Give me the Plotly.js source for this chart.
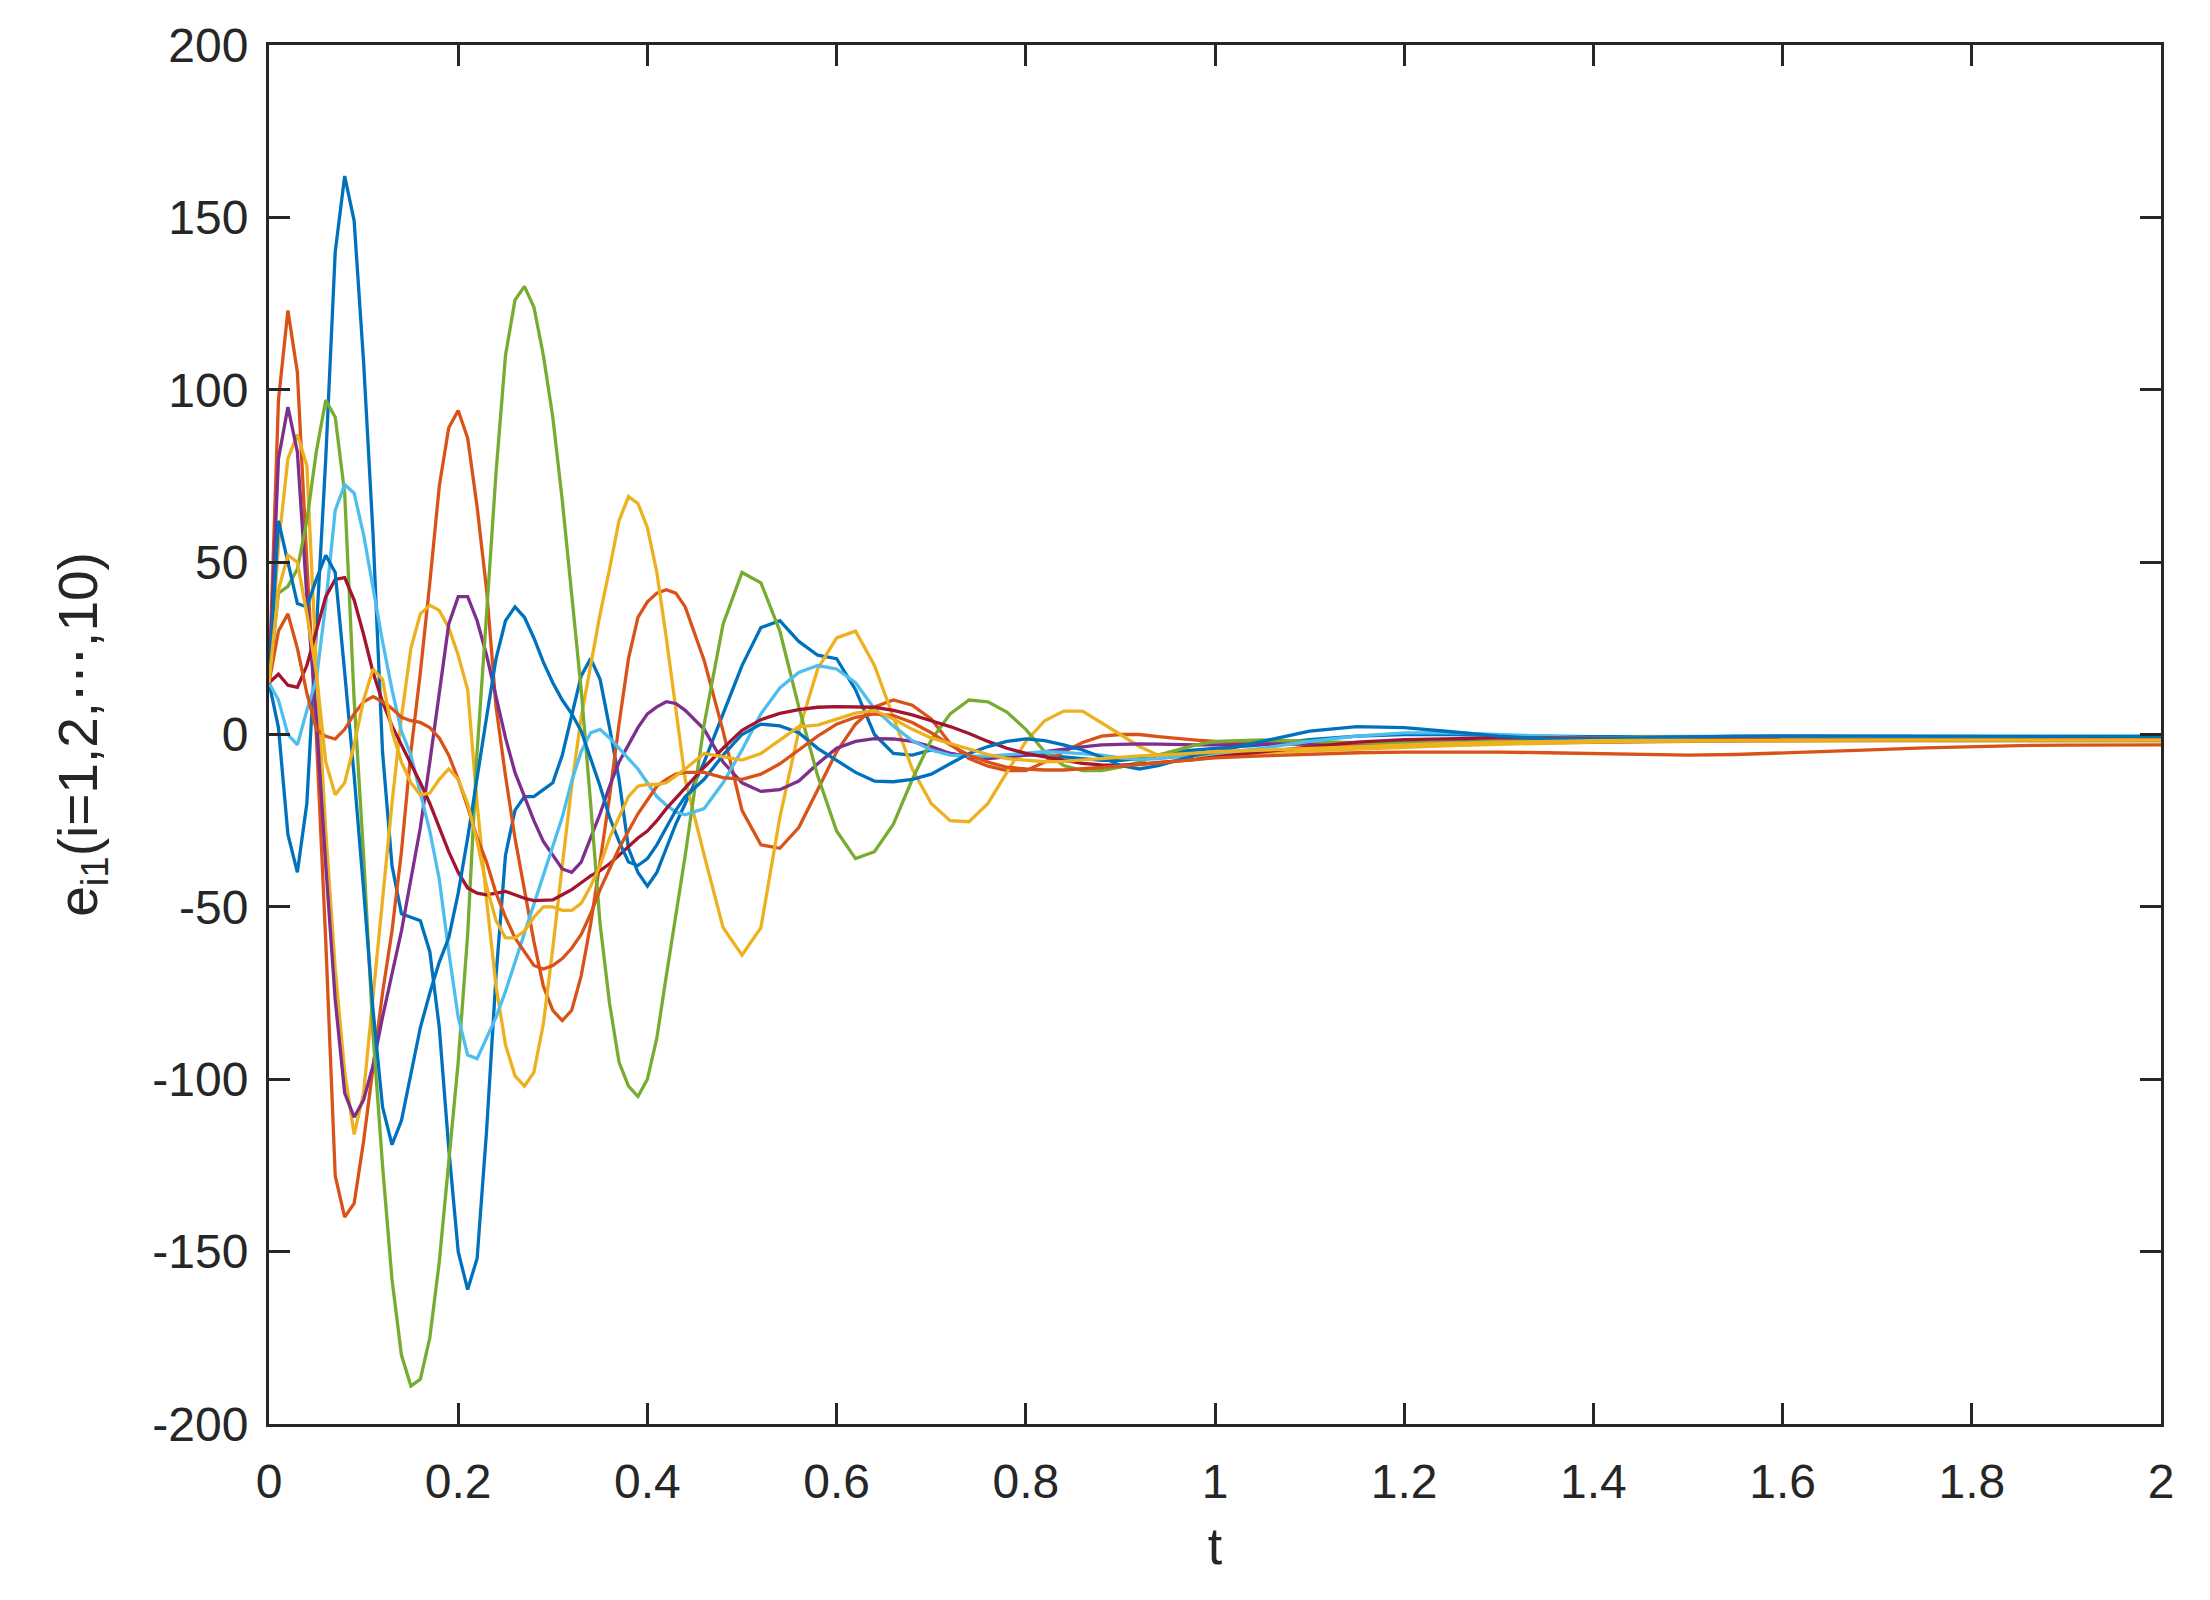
<!DOCTYPE html>
<html>
<head>
<meta charset="utf-8">
<script src="https://cdn.plot.ly/plotly-3.0.1.min.js"></script>
<style>html,body{margin:0;padding:0;background:#fff;}</style>
</head>
<body>
<div id="chart" style="width:2210px;height:1600px;"></div>
<script>
const t = [
0,0.01,0.02,0.03,0.04,0.05,0.06,0.07,0.08,0.09,
0.10,0.11,0.12,0.13,0.14,0.15,0.16,0.17,0.18,0.19,
0.20,0.21,0.22,0.23,0.24,0.25,0.26,0.27,0.28,0.29,
0.30,0.31,0.32,0.33,0.34,0.35,0.36,0.37,0.38,0.39,
0.40,0.41,0.42,0.43,0.44,
0.46,0.48,0.50,0.52,0.54,0.56,0.58,0.60,0.62,0.64,
0.66,0.68,0.70,0.72,0.74,0.76,0.78,0.80,0.82,0.84,
0.86,0.88,0.90,0.92,0.94,0.96,0.98,1.00,
1.05,1.10,1.15,1.20,1.25,1.30,1.35,1.40,1.45,1.50,
1.55,1.60,1.65,1.70,1.75,1.80,1.85,1.90,1.95,2.00];

const e1 = [
15,2,-29,-40,-20,30,80,140,162,149,
108,58,-5,-38,-52,-53,-54,-63,-85,-120,
-150,-161,-152,-115,-70,-35,-22,-18,-18,-16,
-14,-6,6,17,22,16,2,-13,-33,-40,
-44,-40,-33,-26,-20,
-8,6,20,31,33,27,23,22,13,0,
-5.5,-6,-4.5,-5.5,-6.5,-6.8,-6.5,-6,-6,-6.5,
-7,-7.5,-7.5,-7,-6,-5,-4.5,-4,
-3,-1.5,-0.5,0,0,-0.3,-0.5,-0.6,-0.6,-0.6,
-0.5,-0.5,-0.5,-0.5,-0.5,-0.5,-0.5,-0.5,-0.5,-0.5];

const e2 = [
15,97,123,105,50,0,-60,-128,-140,-136,
-118,-96,-75,-57,-34,-5,18,44,72,89,
94,86,66,42,8,-12,-30,-45,-60,-73,
-80,-83,-80,-70,-55,-37,-18,3,22,34,
38.5,41,42,41,37,
21.5,1,-22,-32,-33,-27,-16,-5,3,8,
10,8.5,4.5,-2.6,-7,-9.2,-10.5,-10.5,-8,-5,
-2.3,-0.5,0,0,-0.6,-1.2,-1.6,-2,
-2.5,-3,-3,-3,-2.8,-2.6,-2.4,-2.2,-2,-2,
-1.9,-1.8,-1.8,-1.8,-1.8,-1.8,-1.8,-1.8,-1.8,-1.8];

const e3 = [
15,55,80,87,78,20,-28,-68,-98,-116,
-104,-75,-48,-20,5,25,35,37.5,36,31,
23,13,-20,-48,-73,-90,-99,-102,-98,-84,
-62,-38,-15,5,20,35,48,62,69,67,
60,47,28,8,-13,
-35,-56,-64,-56,-24,1,19,28,30,20,
5,-10,-20,-25,-25.3,-20,-11,-2,4,6.8,
6.8,3.5,0,-3.5,-6,-6.5,-6.3,-6,
-5.3,-4.7,-4.2,-3.7,-3.2,-2.8,-2.4,-2.2,-2,-1.9,
-1.8,-1.8,-1.7,-1.7,-1.7,-1.7,-1.7,-1.7,-1.7,-1.7];

const e4 = [
15,80,95,82,40,5,-38,-77,-104,-111,
-106,-96,-82,-69,-57,-42,-27,-8,12,32,
40,40,33,23,11,-1,-11,-18,-25,-31,
-35,-39,-40,-37,-30,-23,-15,-8,-3,2,
6,8,9.5,9,7,
1.5,-8,-14,-16.5,-16,-13.5,-8.5,-4,-2,-1.2,
-1.3,-2,-3.5,-5.5,-6.5,-7,-6.5,-6,-5,-4.2,
-3.6,-3,-2.8,-2.7,-2.8,-3,-3,-3,
-2.8,-2.6,-2.4,-2.2,-2,-1.9,-1.8,-1.7,-1.6,-1.6,
-1.5,-1.5,-1.5,-1.5,-1.5,-1.5,-1.5,-1.5,-1.5,-1.5];

const e5 = [
15,41,43,48,62,82,97,92,70,10,
-35,-87,-125,-158,-180,-189,-187,-175,-153,-125,
-95,-58,-5,35,76,110,126,130,124,110,
92,68,40,13,-20,-55,-78,-95,-102,-105,
-100,-88,-70,-52,-35,
3,32,47,44,30,8,-12,-28,-36,-34,
-26,-13,-1.6,6,10,9.5,6.5,1.5,-5,-9,
-10.5,-10.5,-9.5,-8,-6,-4.5,-3,-2,
-1.6,-2,-2.4,-2.5,-2.3,-2,-1.5,-1,-0.7,-0.8,
-1.2,-1.5,-1.7,-1.8,-1.8,-1.8,-1.8,-1.8,-1.8,-1.8];

const e6 = [
15,10,0,-3,7,16,38,65,72.5,70,
58,42,27,13,1,-6,-17,-28,-42,-63,
-82,-93,-94,-88,-82,-74.5,-66,-58,-49.5,-41,
-32.5,-24,-13.5,-5,0.5,1.5,-1,-4,-7,-10,
-14,-18,-20.5,-22.5,-23.3,
-21.5,-14,-4.5,6,13.5,18,20,19,15,7.5,
2.5,-1.8,-4.5,-6,-6.3,-6.3,-5.8,-5.3,-5,-5.2,
-5.6,-6,-6.8,-7.2,-7,-6.5,-6,-5.5,
-4,-2,-0.5,0.5,0.5,0,-0.5,-1,-1.2,-1.3,
-1.3,-1.3,-1.3,-1.3,-1.3,-1.3,-1.3,-1.3,-1.3,-1.3];

const e7 = [
15,17.5,14.3,13.7,20,30,40,45,45.5,39,
29,18,9.5,2.5,-3,-8,-14,-20,-27,-34,
-40,-44.5,-46,-46.5,-46,-45.5,-46.5,-47.5,-48.2,-48.2,
-48,-46.5,-45,-43,-41,-39.5,-37.5,-35,-32.5,-30,
-28,-25,-21.5,-18.5,-15.5,
-9.5,-4,1.2,4.3,6.1,7.2,7.9,8.1,8.1,7.9,
7,5.7,4,2.3,0.3,-2,-4,-5.5,-6.5,-7.5,
-8.4,-8.8,-8.9,-8.6,-8.2,-7.8,-7.2,-6.5,
-5,-3.5,-2.2,-1.5,-1.2,-1,-1,-1.1,-1.2,-1.3,
-1.4,-1.5,-1.5,-1.5,-1.5,-1.5,-1.5,-1.5,-1.5,-1.5];

const e8 = [
15,62,50,38,37,45,52,47,18,-12,
-45,-80,-108,-119,-112,-98,-85,-75,-66,-59,
-46,-30,-12,5,22,33,37,34,28,21,
15,10,6,1,-7,-15,-24,-31,-37,-38,
-36,-32,-27,-22,-18,
-13,-6,0,3,2.5,0.5,-4,-7.5,-11,-13.5,
-13.7,-13,-11.5,-8.5,-5.5,-3.5,-2,-1.3,-1.8,-3,
-4.5,-6.5,-9,-10,-9,-7.5,-6,-5,
-2,1,2.3,2,0.8,-0.5,-1.2,-1.3,-1,-0.7,
-0.5,-0.4,-0.4,-0.5,-0.6,-0.6,-0.6,-0.6,-0.6,-0.6];

const e9 = [
15,30,35,25,12,1.5,-0.5,-1.3,1.5,6,
9.5,11,9.5,7.5,5,4,3.5,2,-1,-6,
-13,-21,-30,-37,-46,-53,-59,-63,-67,-68,
-67,-65,-62,-58,-52,-45,-39,-33,-28,-23,
-19,-15,-13,-11.5,-11,
-11,-12.5,-13,-11.5,-8.5,-4.5,-0.5,3,5,6,
5.5,3.5,0.5,-3,-6,-8,-9.5,-10,-10.3,-10.3,
-10,-9.6,-9.2,-8.7,-8.2,-7.7,-7.2,-6.8,
-6.2,-5.7,-5.3,-5.1,-5,-5.1,-5.3,-5.6,-5.9,-6,
-5.8,-5.4,-4.9,-4.4,-3.9,-3.5,-3.2,-3.1,-3,-3];

const e10 = [
15,42,52,50,35,18,-8,-17.5,-14,-3,
10,19,16,1,-8,-14,-17.5,-17,-13,-10,
-13,-20,-31,-44,-54,-59,-59,-57,-53,-50,
-50,-51,-51,-49,-44,-38,-30,-24,-18,-15,
-14.5,-14.5,-14,-12,-10,
-5.5,-6.5,-7.4,-5.5,-1.5,2.3,2.7,4.5,6.2,7,
4.5,1.5,-1,-2.6,-4.3,-5.8,-7,-7.5,-7.9,-7.8,
-7.4,-7,-6.4,-6.2,-6,-5.8,-5.4,-5,
-4.5,-4,-3.5,-3,-2.6,-2.3,-2,-1.8,-1.7,-1.6,
-1.6,-1.6,-1.6,-1.6,-1.6,-1.6,-1.6,-1.6,-1.6,-1.6];

const seriesNames = ['e11','e21','e31','e41','e51','e61','e71','e81','e91','e101'];
const seriesColors = ['#0072BD','#D95319','#EDB120','#7E2F8E','#77AC30','#4DBEEE','#A2142F','#0072BD','#D95319','#EDB120'];
const seriesValues = [e1,e2,e3,e4,e5,e6,e7,e8,e9,e10];

const xTickVals = [0,0.2,0.4,0.6,0.8,1,1.2,1.4,1.6,1.8,2];
const xTickText = ['0','0.2','0.4','0.6','0.8','1','1.2','1.4','1.6','1.8','2'];
const yTickVals = [-200,-150,-100,-50,0,50,100,150,200];
const yTickText = ['-200','-150','-100','-50','0','50','100','150','200'];

const traces = seriesValues.map((v,i)=>({
  x: t, y: v, type: 'scatter', mode: 'lines', name: seriesNames[i],
  line: {color: seriesColors[i], width: 3.3}
}));

const fontFam = '"Liberation Sans", Arial, Helvetica, sans-serif';
const axisCol = '#262626';
const axisCommon = {
  ticks: 'inside', ticklen: 21, tickwidth: 3, tickcolor: axisCol,
  showline: true, linecolor: axisCol, linewidth: 3, mirror: 'ticks',
  showgrid: false, zeroline: false, automargin: false,
  tickfont: {family: fontFam, size: 48, color: axisCol}
};

const layout = {
  width: 2210, height: 1600,
  margin: {l: 269, r: 49, t: 45, b: 176, pad: 0},
  paper_bgcolor: '#ffffff', plot_bgcolor: '#ffffff',
  showlegend: false,
  font: {family: fontFam, color: axisCol},
  xaxis: Object.assign({}, axisCommon, {
    range: [0, 2], tickmode: 'array', tickvals: xTickVals, ticktext: xTickText,
    ticklabelstandoff: 13,
    title: {text: 't', font: {family: fontFam, size: 52, color: axisCol}, standoff: 22}
  }),
  yaxis: Object.assign({}, axisCommon, {
    range: [-200, 200], tickmode: 'array', tickvals: yTickVals, ticktext: yTickText,
    ticklabelstandoff: 8,
    title: {text: 'e<sub>i1</sub>(i=1,2,\u22EF,10)', font: {family: fontFam, size: 55, color: axisCol}, standoff: 38}
  })
};

Plotly.newPlot('chart', traces, layout, {displayModeBar: false, staticPlot: true});
</script>
</body>
</html>
